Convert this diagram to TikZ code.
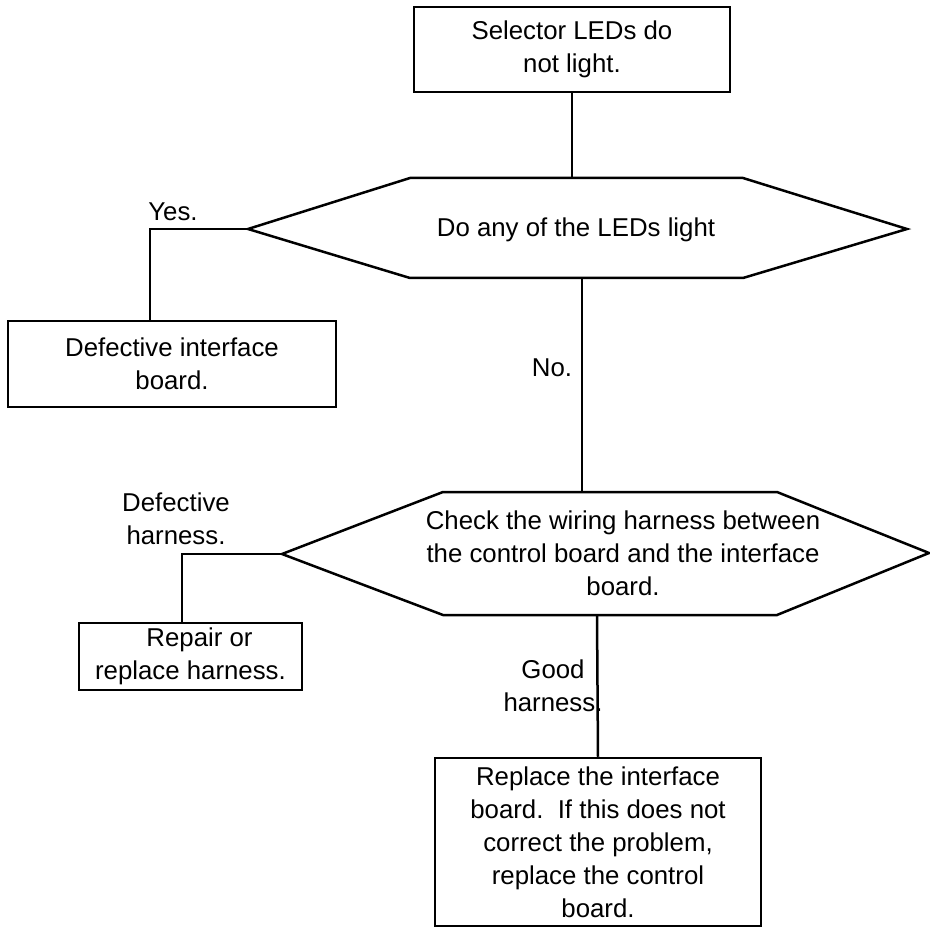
\documentclass[tikz,border=0pt]{standalone}
\usepackage{fontspec}
\setmainfont{Liberation Sans}
\begin{document}
\begin{tikzpicture}[x=1pt, y=-1pt, line width=2.5pt,
		txt/.style={align=center, inner sep=0pt, font=\fontsize{25.8}{33}\selectfont},
		box/.style={txt, draw, line width=2.5pt}]
		\useasboundingbox (0,0) rectangle (930,928);
		\node[box, minimum width=316pt, minimum height=85pt] (start) at (572,49.5) {Selector LEDs do\\not light.};
		\coordinate (q1w) at (248,229);
		\coordinate (q1nw) at (410,178);
		\coordinate (q1ne) at (743,178);
		\coordinate (q1e) at (907,229);
		\coordinate (q1se) at (743,278);
		\coordinate (q1sw) at (410,278);
		\coordinate (q1n) at (572,178);
		\coordinate (q1s) at (582,278);
		\draw (q1w) -- (q1nw) -- (q1ne) -- (q1e) -- (q1se) -- (q1sw) -- cycle;
		\node[txt] (q1) at (576,230) {Do any of the LEDs light};
		\node[box, minimum width=328pt, minimum height=86pt] (defboard) at (172,364) {Defective interface\\board.};
		\coordinate (q2w) at (282,554);
		\coordinate (q2nw) at (443,492);
		\coordinate (q2ne) at (777,492);
		\coordinate (q2e) at (929,553);
		\coordinate (q2se) at (777,615);
		\coordinate (q2sw) at (443,615);
		\coordinate (q2n) at (582,492);
		\coordinate (q2s) at (597,615);
		\draw (q2w) -- (q2nw) -- (q2ne) -- (q2e) -- (q2se) -- (q2sw) -- cycle;
		\node[txt] (q2) at (623,553) {Check the wiring harness between\\the control board and the interface\\board.};
		\node[box, minimum width=223pt, minimum height=67pt] (repair) at (190.5,656.5) {\hspace*{18pt}Repair or\\replace harness.};
		\node[box, minimum width=326pt, minimum height=168pt] (replace) at (598,842) {Replace the interface\\board.\ \ If this does not\\correct the problem,\\replace the control\\board.};
		\coordinate (yesknee) at (150,229);
		\coordinate (harnknee) at (182,554);
		\draw (start.south) -- (q1n);
		\draw (q1w) -- (yesknee) -- (yesknee |- defboard.north);
		\draw (q1s) -- (q2n);
		\draw (q2w) -- (harnknee) -- (harnknee |- repair.north);
		\draw (q2s) -- (replace.north);
		\node[txt] (yeslbl) at (173,212) {Yes.};
		\node[txt] (nolbl) at (552,368) {No.};
		\node[txt] (harnlbl) at (176,519) {Defective\\harness.};
		\node[txt] (goodlbl) at (553,686) {Good\\harness.};
	\end{tikzpicture}
\end{document}
